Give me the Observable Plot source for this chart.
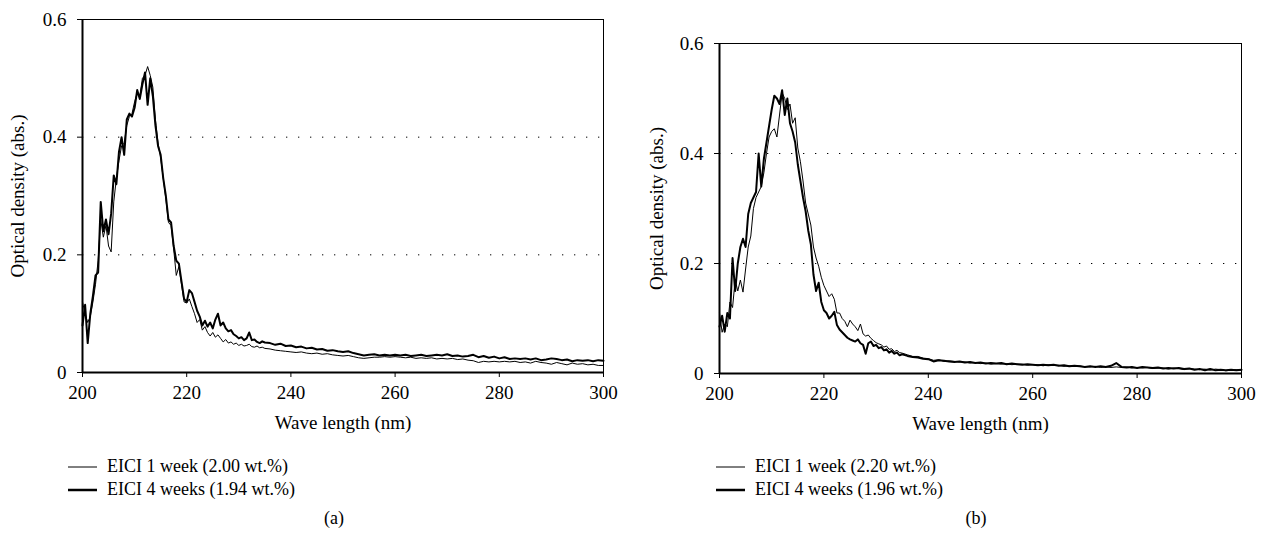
<!DOCTYPE html>
<html>
<head>
<meta charset="utf-8">
<script src="https://cdn.jsdelivr.net/npm/d3@7"></script>
<script src="https://cdn.jsdelivr.net/npm/@observablehq/plot@0.6"></script>
<style>
  html, body { margin: 0; padding: 0; background: #fff; }
  #root { position: relative; width: 1265px; height: 547px; font-family: "Liberation Serif", serif; color: #000; }
  .panel { position: absolute; top: 0; }
  .legend { position: absolute; font-size: 18px; line-height: 23px; }
  .legend .row { display: flex; align-items: center; }
  .legend svg { margin-right: 10px; }
  .caption { position: absolute; font-size: 18px; transform: translateX(-50%); }
</style>
</head>
<body>
<div id="root"></div>
<script>
// Sampling grid (nm)
const wavelength = [
  200,200.5,201,201.5,202,202.5,203,203.5,204,204.5,
  205,205.5,206,206.5,207,207.5,208,208.5,209,209.5,
  210,210.5,211,211.5,212,212.5,213,213.5,214,214.5,
  215,215.5,216,216.5,217,217.5,218,218.5,219,219.5,
  220,220.5,221,221.5,222,222.5,223,223.5,224,224.5,
  225,225.5,226,226.5,227,227.5,228,228.5,229,229.5,
  230,230.5,231,231.5,232,232.5,233,233.5,234,234.5,
  235,
  236,237,238,239,240,241,242,243,244,245,
  246,247,248,249,250,251,252,253,254,255,
  256,257,258,259,260,261,262,263,264,265,
  266,267,268,269,270,271,272,273,274,275,
  276,277,278,279,280,281,282,283,284,285,
  286,287,288,289,290,291,292,293,294,295,
  296,297,298,299,300
];

// Panel (a): EICI 1 week (2.00 wt.%)
const a1Week = [
  0.120,0.100,0.085,0.095,0.120,0.150,0.190,0.260,0.230,0.250,
  0.215,0.205,0.290,0.330,0.360,0.385,0.390,0.420,0.435,0.440,
  0.460,0.475,0.470,0.500,0.505,0.520,0.505,0.485,0.430,0.390,
  0.365,0.330,0.295,0.255,0.250,0.210,0.165,0.180,0.150,0.120,
  0.118,0.125,0.112,0.100,0.085,0.090,0.072,0.078,0.068,0.062,
  0.068,0.060,0.064,0.058,0.052,0.056,0.050,0.052,0.048,0.050,
  0.046,0.048,0.045,0.046,0.048,0.044,0.043,0.045,0.042,0.043,
  0.041,
  0.040,0.038,0.037,0.036,0.035,0.034,0.035,0.033,0.032,0.033,
  0.031,0.032,0.030,0.029,0.028,0.029,0.027,0.025,0.024,0.025,
  0.026,0.026,0.027,0.026,0.027,0.026,0.025,0.026,0.024,0.025,
  0.024,0.025,0.023,0.024,0.023,0.024,0.022,0.023,0.021,0.020,
  0.017,0.019,0.018,0.019,0.018,0.019,0.018,0.019,0.017,0.018,
  0.016,0.019,0.017,0.016,0.014,0.017,0.015,0.013,0.016,0.014,
  0.015,0.013,0.014,0.012,0.012
];
// Panel (a): EICI 4 weeks (1.94 wt.%)
const a4Weeks = [
  0.080,0.115,0.050,0.100,0.130,0.165,0.170,0.290,0.240,0.260,
  0.235,0.270,0.335,0.320,0.375,0.400,0.370,0.430,0.440,0.435,
  0.450,0.480,0.465,0.490,0.510,0.455,0.500,0.470,0.420,0.385,
  0.370,0.330,0.300,0.260,0.255,0.215,0.190,0.185,0.155,0.125,
  0.120,0.140,0.135,0.120,0.105,0.095,0.080,0.088,0.078,0.085,
  0.075,0.090,0.100,0.080,0.085,0.075,0.070,0.072,0.065,0.062,
  0.058,0.060,0.055,0.058,0.068,0.055,0.056,0.052,0.050,0.053,
  0.051,
  0.050,0.047,0.049,0.045,0.046,0.043,0.044,0.041,0.042,0.039,
  0.040,0.037,0.038,0.036,0.035,0.036,0.033,0.031,0.029,0.030,
  0.031,0.029,0.030,0.029,0.030,0.029,0.030,0.028,0.029,0.030,
  0.028,0.029,0.030,0.029,0.031,0.028,0.029,0.027,0.028,0.030,
  0.026,0.028,0.025,0.027,0.024,0.026,0.023,0.024,0.023,0.024,
  0.022,0.024,0.021,0.022,0.024,0.023,0.021,0.022,0.019,0.021,
  0.020,0.021,0.019,0.021,0.020
];
// Panel (b): EICI 1 week (2.20 wt.%)
const b1Week = [
  0.110,0.075,0.090,0.085,0.130,0.120,0.170,0.150,0.170,0.148,
  0.190,0.230,0.250,0.300,0.320,0.330,0.340,0.365,0.400,0.430,
  0.440,0.445,0.430,0.470,0.510,0.500,0.480,0.490,0.455,0.465,
  0.410,0.385,0.350,0.310,0.290,0.270,0.230,0.210,0.195,0.175,
  0.160,0.150,0.140,0.145,0.135,0.110,0.110,0.100,0.095,0.085,
  0.097,0.090,0.085,0.078,0.090,0.072,0.068,0.070,0.064,0.060,
  0.056,0.054,0.052,0.048,0.050,0.044,0.045,0.040,0.042,0.038,
  0.037,
  0.034,0.031,0.031,0.028,0.027,0.024,0.025,0.022,0.023,0.022,
  0.021,0.021,0.019,0.020,0.018,0.019,0.017,0.018,0.017,0.018,
  0.016,0.017,0.017,0.015,0.016,0.016,0.014,0.016,0.015,0.015,
  0.013,0.014,0.013,0.014,0.012,0.012,0.013,0.011,0.012,0.011,
  0.012,0.011,0.012,0.010,0.011,0.010,0.011,0.009,0.010,0.010,
  0.008,0.010,0.009,0.007,0.009,0.008,0.007,0.008,0.006,0.008,
  0.007,0.005,0.006,0.007,0.006
];
// Panel (b): EICI 4 weeks (1.96 wt.%)
const b4Weeks = [
  0.085,0.105,0.076,0.110,0.100,0.210,0.150,0.200,0.230,0.245,
  0.230,0.290,0.310,0.320,0.330,0.400,0.340,0.390,0.420,0.450,
  0.480,0.505,0.500,0.490,0.515,0.470,0.500,0.455,0.440,0.420,
  0.380,0.350,0.320,0.295,0.260,0.235,0.180,0.150,0.165,0.130,
  0.115,0.110,0.100,0.105,0.112,0.088,0.080,0.075,0.070,0.065,
  0.062,0.060,0.058,0.062,0.055,0.052,0.036,0.055,0.058,0.050,
  0.052,0.046,0.048,0.042,0.044,0.038,0.041,0.036,0.038,0.033,
  0.035,
  0.032,0.030,0.029,0.027,0.026,0.022,0.024,0.023,0.022,0.021,
  0.022,0.020,0.021,0.019,0.020,0.018,0.019,0.018,0.019,0.017,
  0.018,0.017,0.016,0.017,0.016,0.015,0.016,0.015,0.016,0.014,
  0.015,0.013,0.014,0.013,0.012,0.013,0.012,0.013,0.012,0.014,
  0.019,0.012,0.011,0.012,0.010,0.012,0.011,0.010,0.011,0.009,
  0.010,0.009,0.010,0.008,0.009,0.007,0.008,0.006,0.008,0.006,
  0.007,0.006,0.007,0.006,0.007
];

const xTicks = [200, 220, 240, 260, 280, 300];
const yTicks = [0, 0.2, 0.4, 0.6];
const gridValues = [0.2, 0.4];
const xLabel = "Wave length (nm)";
const yLabel = "Optical density (abs.)";

const panels = [
  {left: 0, width: 635, marginLeft: 82, marginRight: 32, marginTop: 19, marginBottom: 68,
   week1: a1Week, week4: a4Weeks, yLabelOffset: 72,
   legend: ["EICI 1 week (2.00 wt.%)", "EICI 4 weeks (1.94 wt.%)"], legendLeft: 68, caption: "(a)", captionX: 334},
  {left: 640, width: 625, marginLeft: 79, marginRight: 24, marginTop: 43, marginBottom: 67,
   week1: b1Week, week4: b4Weeks, yLabelOffset: 70,
   legend: ["EICI 1 week (2.20 wt.%)", "EICI 4 weeks (1.96 wt.%)"], legendLeft: 76, caption: "(b)", captionX: 336}
];

const root = document.getElementById("root");
for (const p of panels) {
  const t1 = wavelength.map((w, i) => ({wl: w, v: p.week1[i]}));
  const t4 = wavelength.map((w, i) => ({wl: w, v: p.week4[i]}));
  const chart = Plot.plot({
    width: p.width, height: 440,
    marginLeft: p.marginLeft, marginRight: p.marginRight, marginTop: p.marginTop, marginBottom: p.marginBottom,
    style: {fontFamily: "'Liberation Serif', serif", fontSize: "19px", color: "#000", background: "transparent"},
    x: {domain: [200, 300], ticks: xTicks, tickSize: 5, tickPadding: 8, tickFormat: d => String(d),
        label: xLabel, labelAnchor: "center", labelArrow: "none", labelOffset: 56},
    y: {domain: [0, 0.6], ticks: yTicks, tickSize: 5, tickPadding: 11,
        tickFormat: d => d === 0 ? "0" : d.toFixed(1),
        label: yLabel, labelAnchor: "center", labelArrow: "none", labelOffset: p.yLabelOffset},
    marks: [
      Plot.ruleY(gridValues, {stroke: "#000", strokeWidth: 1, strokeDasharray: "1.3,10.7"}),
      Plot.line(t1, {x: "wl", y: "v", stroke: "#000", strokeWidth: 1}),
      Plot.line(t4, {x: "wl", y: "v", stroke: "#000", strokeWidth: 2}),
      Plot.ruleY([0.6], {stroke: "#000", strokeWidth: 1}),
      Plot.ruleX([300], {stroke: "#000", strokeWidth: 1}),
      Plot.ruleX([200], {stroke: "#000", strokeWidth: 2}),
      Plot.ruleY([0], {stroke: "#000", strokeWidth: 2})
    ]
  });
  const div = document.createElement("div");
  div.className = "panel";
  div.style.left = p.left + "px";
  div.appendChild(chart);
  root.appendChild(div);

  const leg = document.createElement("div");
  leg.className = "legend";
  leg.style.left = (p.left + p.legendLeft) + "px";
  leg.style.top = "455px";
  p.legend.forEach((txt, i) => {
    const row = document.createElement("div");
    row.className = "row";
    const sw = i === 0 ? 1 : 2.5;
    row.innerHTML = `<svg width="29" height="10"><line x1="0" x2="29" y1="5" y2="5" stroke="#000" stroke-width="${sw}"/></svg><span>${txt}</span>`;
    leg.appendChild(row);
  });
  root.appendChild(leg);

  const cap = document.createElement("div");
  cap.className = "caption";
  cap.style.left = (p.left + p.captionX) + "px";
  cap.style.top = "508px";
  cap.textContent = p.caption;
  root.appendChild(cap);
}
</script>
</body>
</html>
